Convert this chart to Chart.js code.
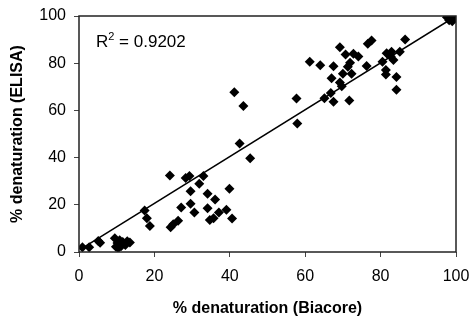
<!DOCTYPE html>
<html>
<head>
<meta charset="utf-8">
<script src="https://cdn.jsdelivr.net/npm/chart.js@4/dist/chart.umd.min.js"></script>
<style>
  body { margin: 0; background: #fff; }
  #wrap { width: 472px; height: 320px; }
</style>
</head>
<body>
<div id="wrap"><canvas id="scatterChart" width="472" height="320"></canvas></div>
<script>
// Biacore vs ELISA % denaturation
var biacoreX = [
  0.9, 2.7, 5.1, 5.6,
  9.5, 9.8, 10.2, 10.8, 11.2, 11.6, 12.3, 12.8, 13.5, 10.4,
  17.4, 18.0, 18.8,
  24.1, 28.3, 29.3, 33.0, 31.9, 29.6, 34.1, 36.1, 39.9, 29.6, 27.1, 30.6, 34.1, 37.1, 39.1, 40.6, 34.7, 35.7, 26.3, 25.0, 24.3,
  41.2, 43.6, 42.6, 45.4,
  57.7, 57.9,
  61.2, 64.0, 67.5, 69.2, 70.7, 72.8, 74.1, 71.9, 71.3, 67.0, 70.0, 72.3, 69.2, 69.7, 65.1, 66.8, 67.5, 71.7,
  76.3, 76.6, 77.6, 80.5, 81.6, 82.7, 82.9, 83.4, 85.1, 81.4, 81.4, 84.2, 84.2, 86.5,
  97.6, 98.2, 98.8, 99.4, 100, 99.0
];
var elisaY = [
  2.0, 2.0, 4.7, 3.9,
  5.8, 2.2, 3.8, 5.0, 2.5, 4.2, 3.0, 4.6, 4.0, 1.6,
  17.6, 14.3, 11.0,
  32.4, 31.4, 32.2, 32.2, 28.9, 25.7, 24.7, 22.2, 26.8, 20.4, 18.9, 16.7, 18.5, 16.7, 17.9, 14.2, 13.6, 14.3, 13.2, 11.8, 10.5,
  67.7, 61.9, 46.0, 39.7,
  65.0, 54.4,
  80.6, 79.1, 78.7, 86.8, 83.7, 84.0, 82.8, 80.2, 78.5, 73.6, 75.5, 75.5, 71.8, 70.2, 65.1, 67.4, 63.7, 64.2,
  78.8, 88.2, 89.6, 80.6, 84.2, 82.8, 84.9, 81.4, 84.9, 77.1, 75.2, 74.2, 68.8, 90.0,
  99.5, 98.2, 100, 99.0, 99.6, 97.8
];

// linear trendline end points
var trendX = [0.9, 100];
var trendY = [1.6, 100];

var axisTicks = [0, 20, 40, 60, 80, 100];
var rSquaredText = '0.9202';

var points = biacoreX.map(function(x, i) { return { x: x, y: elisaY[i] }; });
var trend = trendX.map(function(x, i) { return { x: x, y: trendY[i] }; });

// frame around the plot + R² label
var framePlugin = {
  id: 'framePlugin',
  afterDraw: function(chart) {
    var ctx = chart.ctx;
    var a = chart.chartArea;
    ctx.save();
    ctx.strokeStyle = '#222';
    ctx.lineWidth = 1.5;
    ctx.strokeRect(a.left, a.top, a.right - a.left, a.bottom - a.top);

    ctx.fillStyle = '#000';
    ctx.textBaseline = 'alphabetic';
    var x = 96, y = 47;
    ctx.font = '17px "Liberation Sans", Arial, sans-serif';
    ctx.fillText('R', x, y);
    x += ctx.measureText('R').width;
    ctx.font = '11px "Liberation Sans", Arial, sans-serif';
    ctx.fillText('2', x, y - 7);
    x += ctx.measureText('2').width;
    ctx.font = '17px "Liberation Sans", Arial, sans-serif';
    ctx.fillText(' = ' + rSquaredText, x, y);
    ctx.restore();
  }
};

var tickFont = { family: '"Liberation Sans", Arial, sans-serif', size: 16 };
var titleFont = { family: '"Liberation Sans", Arial, sans-serif', size: 16, weight: 'bold' };

new Chart(document.getElementById('scatterChart'), {
  type: 'scatter',
  data: {
    datasets: [{
      label: 'data',
      data: points,
      pointStyle: 'rectRot',
      pointRadius: 5,
      backgroundColor: '#000',
      borderColor: '#000',
      borderWidth: 0
    }, {
      label: 'trend',
      type: 'line',
      data: trend,
      showLine: true,
      pointRadius: 0,
      borderColor: '#000',
      borderWidth: 1.5,
      fill: false
    }]
  },
  options: {
    responsive: false,
    animation: false,
    layout: { padding: { left: 0, top: 16, right: 16, bottom: 0 } },
    plugins: {
      legend: { display: false },
      tooltip: { enabled: false }
    },
    scales: {
      x: {
        type: 'linear',
        min: 0, max: 100,
        afterBuildTicks: function(s) { s.ticks = axisTicks.map(function(v) { return { value: v }; }); },
        afterFit: function(s) { s.height = 68; s.paddingLeft = 0; s.paddingRight = 0; },
        ticks: { color: '#000', font: tickFont, padding: 10, maxRotation: 0 },
        grid: { display: true, drawOnChartArea: false, tickLength: 5, color: '#444' },
        border: { display: false },
        title: { display: true, text: '% denaturation (Biacore)', color: '#000', font: titleFont, padding: { top: 0, bottom: 2 } }
      },
      y: {
        type: 'linear',
        min: 0, max: 100,
        afterBuildTicks: function(s) { s.ticks = axisTicks.map(function(v) { return { value: v }; }); },
        afterFit: function(s) { s.width = 79; s.paddingTop = 0; s.paddingBottom = 0; },
        ticks: { color: '#000', font: tickFont, padding: 8 },
        grid: { display: true, drawOnChartArea: false, tickLength: 5, color: '#444' },
        border: { display: false },
        title: { display: true, text: '% denaturation (ELISA)', color: '#000', font: titleFont, padding: { top: 8, bottom: 0 } }
      }
    }
  },
  plugins: [framePlugin]
});
</script>
</body>
</html>
